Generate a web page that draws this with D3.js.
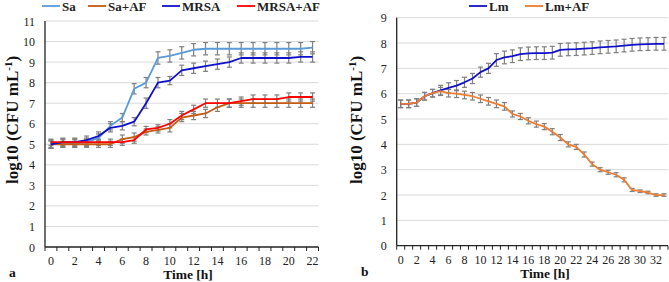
<!DOCTYPE html>
<html>
<head>
<meta charset="utf-8">
<script src="https://cdn.jsdelivr.net/npm/d3@7"></script>
<style>
  body { margin: 0; background: #fff; }
  text { font-family: "Liberation Serif", "Times New Roman", serif; }
  .tick-label { font-size: 12px; fill: #222; }
  .axis-title { font-size: 13.5px; font-weight: bold; fill: #111; }
  .y-title { font-size: 17px; font-weight: bold; fill: #111; }
  .legend-text { font-size: 13px; font-weight: bold; fill: #222; }
</style>
</head>
<body>
<svg id="chart" width="669" height="282"></svg>
<script>
// ---- panel a data (time 0..22 h) ----
const hoursA = d3.range(0, 23);
const sa = [5.0, 5.05, 5.05, 5.1, 5.3, 5.9, 6.3, 7.7, 8.0, 9.2, 9.3, 9.45, 9.6, 9.65, 9.65, 9.65, 9.65, 9.65, 9.65, 9.65, 9.65, 9.65, 9.7];
const saAF = [5.0, 5.0, 5.0, 5.0, 5.0, 5.0, 5.25, 5.35, 5.6, 5.7, 5.8, 6.3, 6.4, 6.5, 6.8, 7.0, 7.0, 7.0, 7.0, 7.0, 7.0, 7.0, 7.0];
const mrsa = [5.0, 5.1, 5.1, 5.2, 5.4, 5.8, 5.9, 6.1, 7.0, 8.0, 8.1, 8.6, 8.7, 8.8, 8.9, 9.0, 9.2, 9.2, 9.2, 9.2, 9.2, 9.25, 9.25];
const mrsaAF = [5.1, 5.1, 5.1, 5.1, 5.1, 5.1, 5.1, 5.2, 5.72, 5.8, 6.0, 6.4, 6.7, 7.0, 7.0, 7.0, 7.1, 7.2, 7.2, 7.2, 7.3, 7.3, 7.3];
const saErr = [0.2, 0.2, 0.2, 0.2, 0.2, 0.2, 0.2, 0.25, 0.25, 0.3, 0.3, 0.3, 0.3, 0.3, 0.3, 0.3, 0.3, 0.3, 0.3, 0.3, 0.3, 0.3, 0.3];
const saAFErr = [0.15, 0.15, 0.15, 0.15, 0.15, 0.15, 0.2, 0.2, 0.15, 0.15, 0.2, 0.2, 0.2, 0.2, 0.2, 0.2, 0.2, 0.2, 0.2, 0.2, 0.2, 0.2, 0.2];
const mrsaErr = [0.2, 0.2, 0.2, 0.2, 0.2, 0.2, 0.2, 0.2, 0.25, 0.25, 0.2, 0.25, 0.25, 0.25, 0.25, 0.25, 0.25, 0.25, 0.25, 0.25, 0.25, 0.25, 0.25];
const mrsaAFErr = [0.15, 0.15, 0.15, 0.15, 0.15, 0.15, 0.15, 0.15, 0.15, 0.15, 0.2, 0.2, 0.2, 0.2, 0.2, 0.2, 0.2, 0.2, 0.2, 0.2, 0.2, 0.2, 0.2];
const yTicksA = d3.range(0, 12);

// ---- panel b data (time 0..33 h) ----
const hoursB = d3.range(0, 34);
const lm = [5.6, 5.6, 5.65, 5.9, 6.02, 6.13, 6.23, 6.32, 6.45, 6.6, 6.85, 7.0, 7.33, 7.43, 7.48, 7.56, 7.59, 7.6, 7.6, 7.62, 7.73, 7.75, 7.76, 7.78, 7.8, 7.83, 7.85, 7.87, 7.9, 7.93, 7.95, 7.96, 7.97, 7.97];
const lmAF = [5.6, 5.6, 5.65, 5.9, 6.02, 6.1, 6.02, 6.0, 5.95, 5.9, 5.8, 5.7, 5.6, 5.5, 5.2, 5.1, 4.93, 4.8, 4.7, 4.5, 4.27, 4.0, 3.9, 3.6, 3.22, 3.0, 2.9, 2.8, 2.6, 2.2, 2.15, 2.1, 2.0, 2.0];
const lmErr = [0.15, 0.15, 0.15, 0.15, 0.15, 0.2, 0.2, 0.2, 0.2, 0.2, 0.2, 0.2, 0.25, 0.25, 0.25, 0.25, 0.25, 0.25, 0.25, 0.25, 0.25, 0.25, 0.25, 0.25, 0.25, 0.25, 0.25, 0.25, 0.25, 0.25, 0.25, 0.25, 0.25, 0.25];
const lmAFErr = [0.15, 0.15, 0.15, 0.15, 0.15, 0.15, 0.15, 0.15, 0.15, 0.15, 0.15, 0.15, 0.15, 0.15, 0.12, 0.12, 0.12, 0.12, 0.12, 0.12, 0.12, 0.1, 0.1, 0.1, 0.08, 0.08, 0.08, 0.08, 0.08, 0.06, 0.05, 0.05, 0.05, 0.05];
const yTicksB = d3.range(0, 10);

const svg = d3.select("#chart");

/**
 * Draws one panel: grid, axes, error bars, lines, legend and labels
 */
function drawPanel(p) {
  const g = svg.append("g");

  const x = d3.scaleBand().domain(p.hours).range([p.left, p.right]).padding(0);
  const y = d3.scaleLinear().domain([0, p.yMax]).range([p.bottom, p.top]);
  const cx = (i) => x(p.hours[i]) + x.bandwidth() / 2;

  // horizontal grid lines
  g.append("g")
    .selectAll("line")
    .data(p.yTicks.filter((d) => d > 0))
    .join("line")
    .attr("x1", p.left)
    .attr("x2", p.right)
    .attr("y1", (d) => y(d))
    .attr("y2", (d) => y(d))
    .attr("stroke", "#d9d9d9")
    .attr("stroke-width", 1);

  // y tick labels
  g.append("g")
    .selectAll("text")
    .data(p.yTicks)
    .join("text")
    .attr("class", "tick-label")
    .attr("text-anchor", "end")
    .attr("x", p.left - 10)
    .attr("y", (d) => y(d) + 4.5)
    .text((d) => d);

  // x tick marks at category boundaries
  const bounds = p.hours.map((h) => x(h)).concat([p.right]);
  g.append("g")
    .selectAll("line")
    .data(bounds)
    .join("line")
    .attr("x1", (d) => d)
    .attr("x2", (d) => d)
    .attr("y1", p.bottom)
    .attr("y2", p.bottom + 4)
    .attr("stroke", "#222")
    .attr("stroke-width", 1);

  // x tick labels, every other hour
  g.append("g")
    .selectAll("text")
    .data(p.hours.filter((h) => h % 2 === 0))
    .join("text")
    .attr("class", "tick-label")
    .attr("text-anchor", "middle")
    .attr("x", (d) => x(d) + x.bandwidth() / 2)
    .attr("y", p.bottom + 18)
    .text((d) => d);

  // axis lines
  g.append("line")
    .attr("x1", p.left).attr("x2", p.left)
    .attr("y1", p.top).attr("y2", p.bottom)
    .attr("stroke", "#222").attr("stroke-width", 1.3);
  g.append("line")
    .attr("x1", p.left).attr("x2", p.right)
    .attr("y1", p.bottom).attr("y2", p.bottom)
    .attr("stroke", "#222").attr("stroke-width", 1.3);

  // error bars (drawn first so the lines sit on top)
  p.series.forEach((s) => {
    const eg = g.append("g").attr("stroke", "#7f7f7f").attr("stroke-width", 1.2);
    s.values.forEach((v, i) => {
      const e = s.err[i];
      eg.append("line")
        .attr("x1", cx(i)).attr("x2", cx(i))
        .attr("y1", y(v - e)).attr("y2", y(v + e));
      [v - e, v + e].forEach((yy) => {
        eg.append("line")
          .attr("x1", cx(i) - 2.5).attr("x2", cx(i) + 2.5)
          .attr("y1", y(yy)).attr("y2", y(yy));
      });
    });
  });

  // series lines
  const line = d3
    .line()
    .x((d, i) => cx(i))
    .y((d) => y(d));
  p.series.forEach((s) => {
    g.append("path")
      .datum(s.values)
      .attr("fill", "none")
      .attr("stroke", s.color)
      .attr("stroke-width", 1.8)
      .attr("stroke-linejoin", "round")
      .attr("d", line);
  });

  // legend (one entry per series, at fixed slots)
  p.series.forEach((s, i) => {
    const lx = p.legendX[i];
    g.append("line")
      .attr("x1", lx).attr("x2", lx + 18)
      .attr("y1", 6).attr("y2", 6)
      .attr("stroke", s.color).attr("stroke-width", 1.8);
    g.append("text")
      .attr("class", "legend-text")
      .attr("x", lx + 20)
      .attr("y", 10.5)
      .text(s.name);
  });

  // x axis title and panel letter
  g.append("text")
    .attr("class", "axis-title")
    .attr("text-anchor", "middle")
    .attr("x", p.xTitleX)
    .attr("y", p.bottom + 32)
    .text("Time [h]");
  g.append("text")
    .attr("class", "axis-title")
    .attr("x", p.letterX)
    .attr("y", p.bottom + 30)
    .text(p.letter);

  // y axis title with superscript
  const yt = g.append("text")
    .attr("class", "y-title")
    .attr("text-anchor", "middle")
    .attr("transform", `translate(${p.yTitleX}, ${p.yTitleY}) rotate(-90)`);
  yt.append("tspan").text("log10 (CFU mL");
  yt.append("tspan").attr("dy", -6).attr("font-size", "11px").text("-1");
  yt.append("tspan").attr("dy", 6).text(")");
}

const panelA = [
  { name: "Sa", values: sa, err: saErr, color: "#5b9bd5" },
  { name: "Sa+AF", values: saAF, err: saAFErr, color: "#c55a11" },
  { name: "MRSA", values: mrsa, err: mrsaErr, color: "#1010cc" },
  { name: "MRSA+AF", values: mrsaAF, err: mrsaAFErr, color: "#ff0000" },
];
const panelB = [
  { name: "Lm", values: lm, err: lmErr, color: "#1010cc" },
  { name: "Lm+AF", values: lmAF, err: lmAFErr, color: "#ed7d31" },
];

drawPanel({
  hours: hoursA,
  yMax: 11,
  yTicks: yTicksA,
  left: 45,
  right: 318.5,
  top: 21,
  bottom: 247,
  legendX: [42, 88, 162, 237],
  letter: "a",
  letterX: 9,
  xTitleX: 188,
  yTitleX: 17.5,
  yTitleY: 120,
  series: panelA,
});

drawPanel({
  hours: hoursB,
  yMax: 9,
  yTicks: yTicksB,
  left: 396.7,
  right: 668,
  top: 17.7,
  bottom: 245.7,
  legendX: [469, 525],
  letter: "b",
  letterX: 361,
  xTitleX: 545,
  yTitleX: 362,
  yTitleY: 120,
  series: panelB,
});
</script>
</body>
</html>
